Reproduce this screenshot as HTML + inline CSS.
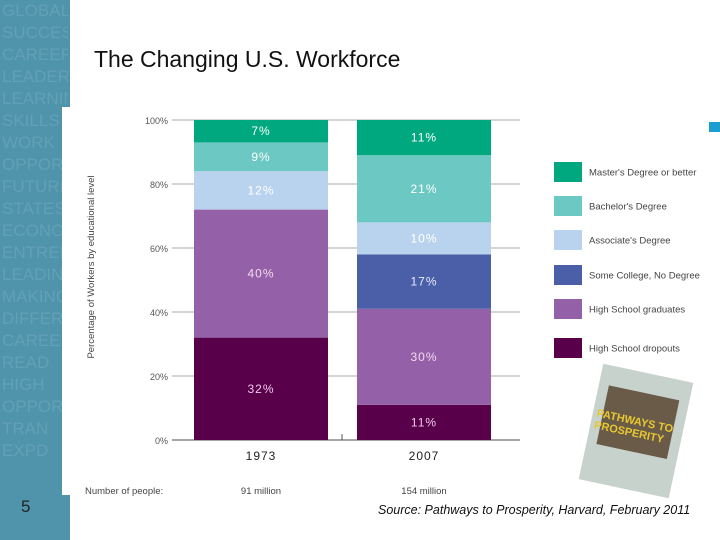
<!DOCTYPE html>
<html><head><meta charset="utf-8"><style>
body{margin:0;width:720px;height:540px;overflow:hidden;background:#fff;font-family:"Liberation Sans",sans-serif;position:relative}
.abs{position:absolute}
</style></head><body>
<div class="abs" style="left:0;top:0;width:70px;height:540px;background:#4f94ab"></div>
<div class="abs" style="left:2px;top:0;width:66px;height:540px;overflow:hidden;color:#62a0b5;font-size:17px;line-height:22px">GLOBAL<br>SUCCESS<br>CAREER<br>LEADERS<br>LEARNING<br>SKILLS<br>WORK<br>OPPORT<br>FUTURE<br>STATES<br>ECONOMIC<br>ENTREP<br>LEADING<br>MAKING<br>DIFFER<br>CAREER<br>READ<br>HIGH<br>OPPOR<br>TRAN<br>EXPD</div>
<div class="abs" style="left:62px;top:107px;width:8px;height:388px;background:#fff"></div>
<div class="abs" style="left:21px;top:497px;font-size:17px;color:#222">5</div>
<div class="abs" style="left:94px;top:46px;font-size:23px;color:#111">The Changing U.S. Workforce</div>
<div class="abs" style="left:709px;top:122px;width:11px;height:10px;background:#1c9fd0"></div>
<svg class="abs" style="left:0;top:0" width="720" height="540" id="chart"></svg>
<div class="abs" style="left:590px;top:372px;width:92px;height:118px;background:#c8d2cc;transform:rotate(12deg);overflow:hidden">
<div style="position:absolute;left:10px;top:20px;width:72px;height:60px;background:#6a5a48"></div>
<div style="position:absolute;left:4px;top:44px;font-size:11px;font-weight:bold;color:#e8c830">PATHWAYS TO<br>PROSPERITY</div>
</div>
<div class="abs" style="left:378px;top:503px;font-size:12.5px;font-style:italic;color:#111">Source: Pathways to Prosperity, Harvard, February 2011</div>
<script>
const categories=["1973","2007"];
const people=["91 million","154 million"];
const seriesNames=["High School dropouts","High School graduates","Some College, No Degree","Associate's Degree","Bachelor's Degree","Master's Degree or better"];
const dropouts=[32,11];
const hsGrads=[40,30];
const someCollege=[0,17];
const associate=[12,10];
const bachelor=[9,21];
const masters=[7,11];
const ticks=[0,20,40,60,80,100];
const colors=["#59004a","#9461a8","#4a5fa8","#b9d3ee","#6bc8c3","#00a87f"];
const labelColors=["#f0c8ec","#f4d8f0","#e8ecff","#ffffff","#ffffff","#ffffff"];
const svg=document.getElementById('chart');
const NS="http://www.w3.org/2000/svg";
const y0=440,y1=120,xL=172,xR=520;
const y=v=>y0-(v/100)*(y0-y1);
const barX=i=>194+i*163, bw=134;
function mk(t,a){const e=document.createElementNS(NS,t);for(const k in a)e.setAttribute(k,a[k]);svg.appendChild(e);return e;}
ticks.forEach(t=>{
 const l=mk('line',{x1:xL,x2:xR,y1:y(t),y2:y(t),stroke:t==0?'#888':'#aaa','stroke-width':t==0?1.5:1});
 
 
 const tx=mk('text',{x:168,y:y(t)+4,'text-anchor':'end','font-size':9,fill:'#555'});tx.textContent=t+'%';
 
 
});
mk('line',{x1:342,x2:342,y1:434,y2:440,stroke:'#555'});
const series=[dropouts,hsGrads,someCollege,associate,bachelor,masters];
categories.forEach((c,i)=>{
 let acc=0;
 series.forEach((s,k)=>{
  const v=s[i]; if(!v){return;}
  const r=mk('rect',{x:barX(i),y:y(acc+v),width:bw,height:y(acc)-y(acc+v),fill:colors[k]});
  
  
  const t=mk('text',{x:barX(i)+bw/2,y:(y(acc)+y(acc+v))/2+4,'text-anchor':'middle','font-size':12,fill:labelColors[k],'letter-spacing':'1'});
  t.textContent=v+'%';
  
  
  acc+=v;
 });
 const xl=mk('text',{x:barX(i)+bw/2,y:460,'text-anchor':'middle','font-size':12,fill:'#222','letter-spacing':'1'});xl.textContent=c;
 
 
 const pl=mk('text',{x:barX(i)+bw/2,y:494,'text-anchor':'middle','font-size':9.5,fill:'#444'});pl.textContent=people[i];
 
 
});
const np=mk('text',{x:85,y:494,'font-size':9.5,fill:'#444'});np.textContent='Number of people:';


const yt=mk('text',{x:0,y:0,'font-size':9.5,fill:'#444','text-anchor':'middle',transform:'translate(94,267) rotate(-90)'});yt.textContent='Percentage of Workers by educational level';


const legY=[348,309,275,240,206,172];
seriesNames.forEach((n,k)=>{
 const r=mk('rect',{x:554,y:legY[k]-10,width:28,height:20,fill:colors[k]});
 
 
 const t=mk('text',{x:589,y:legY[k]+3.5,'font-size':9.5,fill:'#444'});t.textContent=n;
 
 
});
</script>
</body></html>
